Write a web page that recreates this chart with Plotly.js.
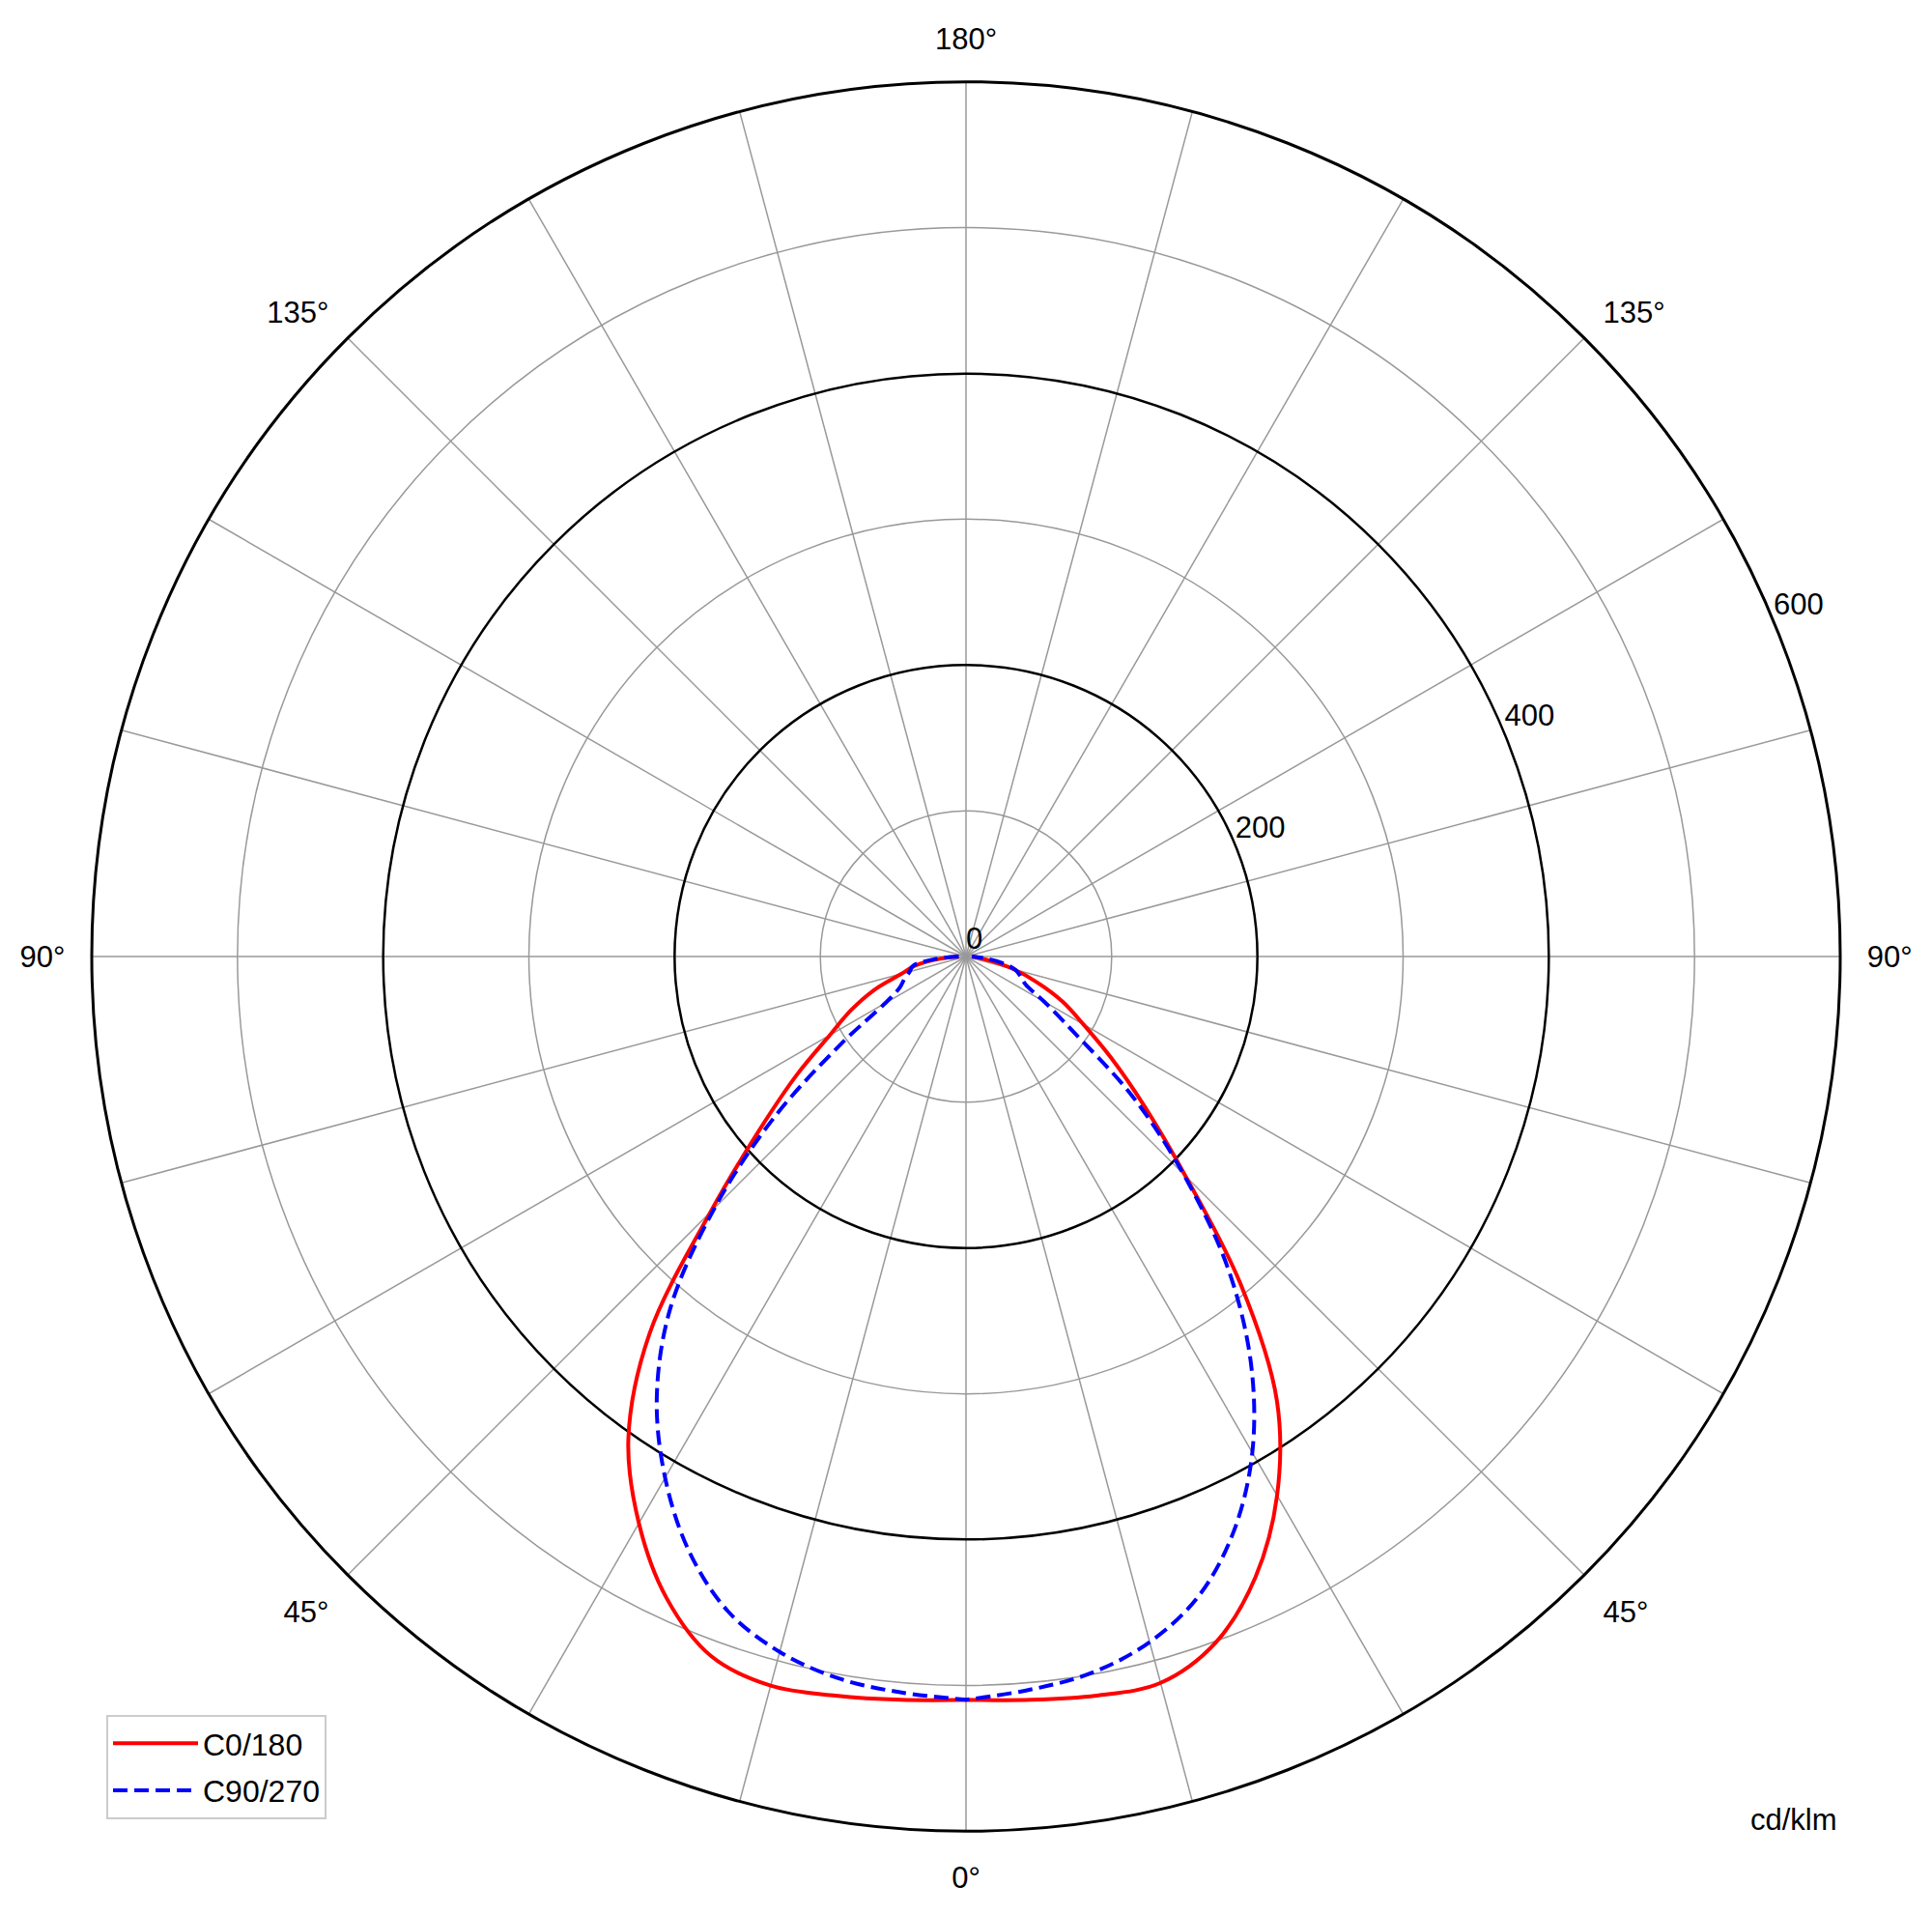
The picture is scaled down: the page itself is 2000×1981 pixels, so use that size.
<!DOCTYPE html>
<html>
<head>
<meta charset="utf-8">
<script src="https://cdn.plot.ly/plotly-3.0.1.min.js"></script>
<style>html,body{margin:0;padding:0;background:#fff;}#chart{width:2000px;height:1981px;}</style>
</head>
<body>
<div id="chart"></div>
<script>
// Gamma angles (degrees from nadir)
const gamma = [0,5,10,15,20,25,30,35,40,45,50,55,60,65,70,75,80,85,90];
// Luminous intensity, cd/klm
const c0   = [510,512,515,516,501,470,427,372,293,213,160,122,93,73,52,34,17,8,4];
const c180 = [510,512,515,518,511,486,449,404,338,248,185,142,108,87,67,46,35,18,5];
const c90  = [510,505,499,487,467,435,393,341,280,211,149,90,62,45,40,35,25,12,4];
const c270 = [510,507,503,494,478,450,413,370,316,244,172,105,64,50,45,40,37,22,5];
const seriesNames = ["C0/180", "C90/270"];
const radialTicks = [0,200,400,600];
const radialTickText = ["0","200","400","600"];
const minorRings = [100,300,500];
const angleTicks = [0,15,30,45,60,75,90,105,120,135,150,165,180,195,210,225,240,255,270,285,300,315,330,345];
const angleLabels = {0:"0°",45:"45°",90:"90°",135:"135°",180:"180°",225:"135°",270:"90°",315:"45°"};
const unitLabel = "cd/klm";

function joinSides(leftVals, rightVals) {
  const theta = [], r = [];
  for (let i = gamma.length - 1; i >= 0; i--) { theta.push(360 - gamma[i]); r.push(leftVals[i]); }
  for (let i = 0; i < gamma.length; i++) { theta.push(gamma[i]); r.push(rightVals[i]); }
  return {theta, r};
}
const s1 = joinSides(c180, c0);
const s2 = joinSides(c270, c90);

const FONT = "Liberation Sans, Arial, sans-serif";
const FS = 31;
const ROT = -90;                 // 0° points down
const LABEL_ANGLE = 22.5;        // radial labels, degrees above the right horizontal
const labelTheta = LABEL_ANGLE - ROT;

const traces = [
  // empty trace so that the background (grid) subplot is drawn
  {type:"scatterpolar", subplot:"polar", mode:"lines", r:[], theta:[], showlegend:false, hoverinfo:"skip"},
  {type:"scatterpolar", subplot:"polar2", mode:"lines", name:seriesNames[0], legendgroup:"a",
   theta:s1.theta, r:s1.r, line:{color:"#ff0000", width:4, shape:"spline", smoothing:1}},
  {type:"scatterpolar", subplot:"polar2", mode:"lines", name:seriesNames[1], legendgroup:"b",
   theta:s2.theta, r:s2.r, line:{color:"#0000ff", width:4, dash:"15px,7px", shape:"spline", smoothing:1}},
  // radial tick labels, anchored bottom-left at each ring like the original
  {type:"scatterpolar", subplot:"polar2", mode:"text", showlegend:false, hoverinfo:"skip",
   r:radialTicks, theta:radialTicks.map(() => labelTheta), text:radialTickText,
   textposition:"top right", textfont:{family:FONT, size:FS, color:"#000"}, cliponaxis:false}
];

const dom = {x:[0.0475,0.9525], y:[0.04341,0.95709]};

const layout = {
  width:2000, height:1981,
  margin:{l:0,r:0,t:0,b:0},
  paper_bgcolor:"#ffffff",
  font:{family:FONT, size:FS, color:"#000"},
  showlegend:true,
  legend:{x:0.055, y:0.104, xanchor:"left", yanchor:"top",
          bgcolor:"#ffffff", bordercolor:"#cccccc", borderwidth:2,
          font:{family:FONT, size:32, color:"#000"}, itemwidth:88,
          traceorder:"grouped", tracegroupgap:4},
  polar:{
    domain:dom, bgcolor:"#ffffff",
    radialaxis:{range:[0,600], tickvals:minorRings, showticklabels:false, ticks:"",
                showline:false, gridcolor:"#999999", gridwidth:1.5},
    angularaxis:{rotation:ROT, direction:"counterclockwise",
                 tickmode:"array", tickvals:angleTicks,
                 ticktext:angleTicks.map(a => angleLabels[a] || ""),
                 ticks:"outside", ticklen:20, tickcolor:"rgba(0,0,0,0)",
                 gridcolor:"#999999", gridwidth:1.5,
                 showline:true, linecolor:"#000000", linewidth:3,
                 tickfont:{family:FONT, size:FS, color:"#000"}}
  },
  polar2:{
    domain:dom, bgcolor:"rgba(0,0,0,0)",
    radialaxis:{range:[0,600], tickvals:radialTicks, showticklabels:false,
                angle:LABEL_ANGLE, ticks:"", showline:false,
                gridcolor:"#000000", gridwidth:2.5},
    angularaxis:{rotation:ROT, direction:"counterclockwise", showgrid:false,
                 showticklabels:false, ticks:"", showline:false}
  },
  annotations:[
    {text:unitLabel, xref:"paper", yref:"paper", x:0.9285, y:0.049, xanchor:"center", yanchor:"middle",
     showarrow:false, font:{family:FONT, size:FS, color:"#000"}}
  ]
};

Plotly.newPlot("chart", traces, layout, {displayModeBar:false, staticPlot:true});
</script>
</body>
</html>
